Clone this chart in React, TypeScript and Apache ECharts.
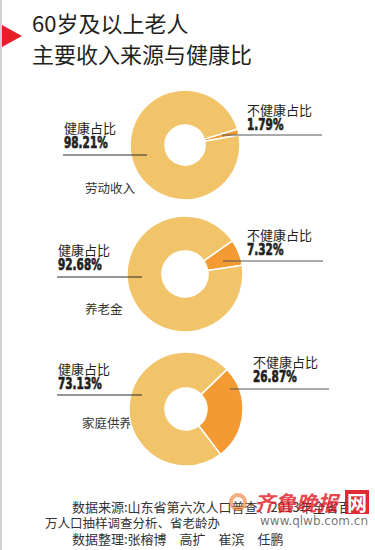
import React, { useEffect, useRef } from "react";
import * as echarts from "echarts";

const titleLines = ["60岁及以上老人", "主要收入来源与健康比"];
const sources = ["劳动收入", "养老金", "家庭供养"];
const healthyLabel = "健康占比";
const unhealthyLabel = "不健康占比";
const healthyPct = [98.21, 92.68, 73.13];
const unhealthyPct = [1.79, 7.32, 26.87];
const footerLines = [
  "数据来源:山东省第六次人口普查、2013年全省百",
  "万人口抽样调查分析、省老龄办",
  "数据整理:张榕博　高扩　崔滨　任鹏",
];
const watermarkName = "齐鲁晚报";
const watermarkNet = "网";
const watermarkUrl = "www.qlwb.com.cn";

const CJK = "'Noto Sans CJK SC', sans-serif";
const NUM = "'DejaVu Sans', 'Noto Sans CJK SC', sans-serif";
const YELLOW = "#f2c46a";
const ORANGE = "#f39a33";
const DARK = "#231f20";

// layout per donut
const layout = [
  { cx: 185, cy: 145, r0: 20, r: 55, start: 17, hy: 127, lineL: [63, 147, 155], uy: 109, ux: 247, lineR: [222, 322, 135], sx: 85, sy: 187 },
  { cx: 185, cy: 274, r0: 23, r: 58, start: 35, hy: 249, lineL: [57, 142, 277], uy: 234, ux: 247, lineR: [223, 323, 261], sx: 85, sy: 308 },
  { cx: 186, cy: 409, r0: 21, r: 57, start: 44, hy: 368, lineL: [57, 142, 395], uy: 361, ux: 253, lineR: [230, 329, 389], sx: 82, sy: 422 },
];

export default function App() {
  const ref = useRef<HTMLDivElement>(null);
  useEffect(() => {
    if (!ref.current) return;
    const chart = echarts.init(ref.current, undefined, { renderer: "svg" });

    const series: any[] = layout.map((l, i) => ({
      type: "pie",
      center: [l.cx, l.cy],
      radius: [l.r0, l.r],
      startAngle: l.start,
      clockwise: true,
      silent: true,
      label: { show: false },
      labelLine: { show: false },
      itemStyle: { borderColor: "#ffffff", borderWidth: 1.5 },
      data: [
        { name: unhealthyLabel, value: unhealthyPct[i], itemStyle: { color: ORANGE } },
        { name: healthyLabel, value: healthyPct[i], itemStyle: { color: YELLOW } },
      ],
    }));

    const graphics: any[] = [];
    graphics.push({ type: "line", shape: { x1: 1, y1: 0, x2: 1, y2: 550 }, style: { stroke: "#d0d0d0", lineWidth: 2 } });
    graphics.push({ type: "polygon", shape: { points: [[2, 25], [2, 47], [22, 36]] }, style: { fill: "#e61e2a" } });
    titleLines.forEach((t, i) => {
      graphics.push({
        type: "text",
        style: { text: t, x: 32, y: i === 0 ? 22 : 53, font: `22px ${CJK}`, fill: DARK, verticalAlign: "middle", align: "left" },
      });
    });

    const pctText = (txt: string, x: number, y: number) => ({
      type: "text",
      x,
      y,
      scaleX: 0.7,
      style: { text: txt, x: 0, y: 0, font: `bold 15px ${NUM}`, fill: DARK, stroke: DARK, lineWidth: 0.7, verticalAlign: "middle" },
    });

    layout.forEach((l, i) => {
      const hx = l.lineL[0] + 1;
      graphics.push({ type: "text", style: { text: healthyLabel, x: hx, y: l.hy, font: `13px ${CJK}`, fill: DARK, verticalAlign: "middle" } });
      graphics.push(pctText(`${healthyPct[i].toFixed(2)}%`, hx, l.hy + 16));
      graphics.push({ type: "line", z: 10, shape: { x1: l.lineL[0], y1: l.lineL[2], x2: l.lineL[1], y2: l.lineL[2] }, style: { stroke: "#2a2a2a", lineWidth: 1 } });
      graphics.push({ type: "text", style: { text: unhealthyLabel, x: l.ux, y: l.uy, font: `13px ${CJK}`, fill: DARK, verticalAlign: "middle" } });
      graphics.push(pctText(`${unhealthyPct[i].toFixed(2)}%`, l.ux, l.uy + 16));
      graphics.push({ type: "line", z: 10, shape: { x1: l.lineR[0], y1: l.lineR[2], x2: l.lineR[1], y2: l.lineR[2] }, style: { stroke: "#555555", lineWidth: 1 } });
      graphics.push({ type: "text", style: { text: sources[i], x: l.sx, y: l.sy, font: `12.5px ${CJK}`, fill: "#333333", verticalAlign: "middle" } });
    });

    const fy = [506, 522, 538];
    const fx = [72, 45, 72];
    const fs = [13, 12.5, 13];
    footerLines.forEach((t, i) => {
      graphics.push({ type: "text", style: { text: t, x: fx[i], y: fy[i], font: `${fs[i]}px ${CJK}`, fill: "#333333", verticalAlign: "middle" } });
    });

    // watermark
    graphics.push({ type: "ring", shape: { cx: 238, cy: 502, r: 9, r0: 5 }, style: { fill: "rgba(240,120,40,0.6)" } });
    graphics.push({ type: "text", style: { text: watermarkName, x: 254, y: 502, font: `italic bold 21px ${CJK}`, fill: "rgba(225,20,30,0.8)", verticalAlign: "middle" } });
    graphics.push({ type: "rect", shape: { x: 345, y: 490, width: 24, height: 24 }, style: { fill: "rgba(220,20,30,0.9)" } });
    graphics.push({ type: "text", style: { text: watermarkNet, x: 357, y: 502, font: `bold 20px ${CJK}`, fill: "#ffffff", verticalAlign: "middle", align: "center" } });
    graphics.push({ type: "text", style: { text: watermarkUrl, x: 368, y: 521, font: `12px 'DejaVu Sans', sans-serif`, fill: "rgba(90,90,90,0.85)", verticalAlign: "middle", align: "right" } });

    chart.setOption({
      animation: false,
      backgroundColor: "#ffffff",
      series,
      graphic: graphics,
    });
    return () => chart.dispose();
  }, []);
  return <div ref={ref} style={{ position: "fixed", left: 0, top: 0, width: 375, height: 550 }} />;
}
